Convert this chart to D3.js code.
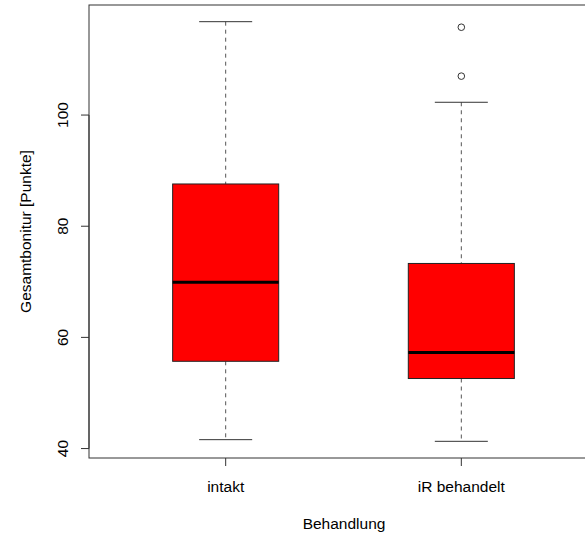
<!DOCTYPE html>
<html>
<head>
<meta charset="utf-8">
<script src="https://cdn.jsdelivr.net/npm/d3@7"></script>
<style>
  body { margin: 0; background: #fff; }
  svg text { font-family: "Liberation Sans", Arial, sans-serif; fill: #000; }
</style>
</head>
<body>
<svg id="chart" width="585" height="536"></svg>
<script>
var groups = ['intakt', 'iR behandelt'],
    whisker_lo = [41.6, 41.3],
    q1 = [55.7, 52.6],
    medians = [69.9, 57.3],
    q3 = [87.6, 73.3],
    whisker_hi = [116.8, 102.3],
    outliers = [[], [107.0, 115.8]],
    y_ticks = [40, 60, 80, 100];

var margin = {top: 5, left: 89, bottom: 458, right: 598},
    box_half = 0.225,
    font_size = 15.5;

var svg = d3.select('#chart');

var x = d3.scaleLinear().domain([0.42, 2.58]).range([margin.left, margin.right]);
var y = d3.scaleLinear().domain([38.3, 119.8]).range([margin.bottom, margin.top]);

var stats = groups.map(function(g, i) {
  return {name: g, pos: i + 1, lo: whisker_lo[i], q1: q1[i], med: medians[i], q3: q3[i], hi: whisker_hi[i], out: outliers[i]};
});

var box_g = svg.selectAll('g.box').data(stats).enter().append('g').attr('class', 'box');

// whiskers (dashed)
box_g.append('line')
  .attr('x1', function(d) { return x(d.pos); }).attr('x2', function(d) { return x(d.pos); })
  .attr('y1', function(d) { return y(d.hi); }).attr('y2', function(d) { return y(d.q3); })
  .attr('stroke', '#555').attr('stroke-dasharray', '4,4');
box_g.append('line')
  .attr('x1', function(d) { return x(d.pos); }).attr('x2', function(d) { return x(d.pos); })
  .attr('y1', function(d) { return y(d.q1); }).attr('y2', function(d) { return y(d.lo); })
  .attr('stroke', '#555').attr('stroke-dasharray', '4,4');

// staples
['hi', 'lo'].forEach(function(k) {
  box_g.append('line')
    .attr('x1', function(d) { return x(d.pos - box_half / 2); })
    .attr('x2', function(d) { return x(d.pos + box_half / 2); })
    .attr('y1', function(d) { return y(d[k]); }).attr('y2', function(d) { return y(d[k]); })
    .attr('stroke', '#333');
});

// boxes
box_g.append('rect')
  .attr('x', function(d) { return x(d.pos - box_half); })
  .attr('width', function(d) { return x(d.pos + box_half) - x(d.pos - box_half); })
  .attr('y', function(d) { return y(d.q3); })
  .attr('height', function(d) { return y(d.q1) - y(d.q3); })
  .attr('fill', '#ff0000').attr('stroke', '#222');

// medians
box_g.append('line')
  .attr('x1', function(d) { return x(d.pos - box_half); })
  .attr('x2', function(d) { return x(d.pos + box_half); })
  .attr('y1', function(d) { return y(d.med); }).attr('y2', function(d) { return y(d.med); })
  .attr('stroke', '#000').attr('stroke-width', 3);

// outliers
box_g.selectAll('circle').data(function(d) { return d.out.map(function(v) { return {pos: d.pos, v: v}; }); })
  .enter().append('circle')
  .attr('cx', function(d) { return x(d.pos); })
  .attr('cy', function(d) { return y(d.v); })
  .attr('r', 3.3).attr('fill', 'none').attr('stroke', '#333');

// frame
svg.append('rect')
  .attr('x', margin.left).attr('y', margin.top)
  .attr('width', margin.right - margin.left).attr('height', margin.bottom - margin.top)
  .attr('fill', 'none').attr('stroke', '#333');

// y axis
var y_axis = svg.append('g');
y_axis.append('line')
  .attr('x1', margin.left).attr('x2', margin.left)
  .attr('y1', y(y_ticks[0])).attr('y2', y(y_ticks[y_ticks.length - 1]))
  .attr('stroke', '#333');
y_axis.selectAll('line.tick').data(y_ticks).enter().append('line')
  .attr('class', 'tick')
  .attr('x1', margin.left - 8).attr('x2', margin.left)
  .attr('y1', function(d) { return y(d); }).attr('y2', function(d) { return y(d); })
  .attr('stroke', '#333');
y_axis.selectAll('text').data(y_ticks).enter().append('text')
  .attr('transform', function(d) { return 'translate(68,' + y(d) + ') rotate(-90)'; })
  .attr('text-anchor', 'middle')
  .attr('font-size', font_size)
  .text(function(d) { return d; });

// x axis
var x_axis = svg.append('g');
x_axis.selectAll('line').data(stats).enter().append('line')
  .attr('x1', function(d) { return x(d.pos); }).attr('x2', function(d) { return x(d.pos); })
  .attr('y1', margin.bottom).attr('y2', margin.bottom + 8)
  .attr('stroke', '#333');
x_axis.selectAll('text').data(stats).enter().append('text')
  .attr('x', function(d) { return x(d.pos); })
  .attr('y', 492)
  .attr('text-anchor', 'middle')
  .attr('font-size', font_size)
  .text(function(d) { return d.name; });

// axis titles
svg.append('text')
  .attr('x', 344).attr('y', 529)
  .attr('text-anchor', 'middle')
  .attr('font-size', font_size)
  .text('Behandlung');

svg.append('text')
  .attr('transform', 'translate(31,' + (margin.top + margin.bottom) / 2 + ') rotate(-90)')
  .attr('text-anchor', 'middle')
  .attr('font-size', font_size)
  .text('Gesamtbonitur [Punkte]');
</script>
</body>
</html>
